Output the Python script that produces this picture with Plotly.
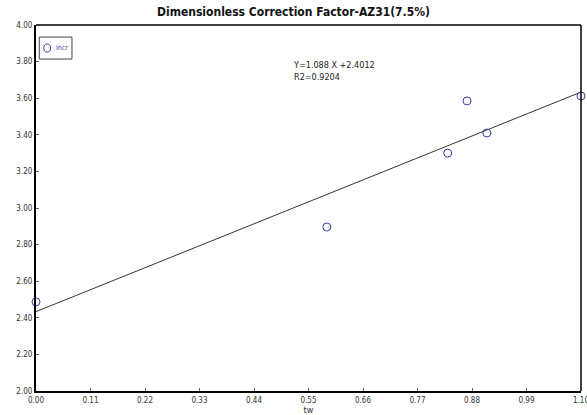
import numpy as np
import plotly.graph_objects as go

x_vals = [0.0, 0.587, 0.831, 0.870, 0.910, 1.10]
y_vals = [2.487, 2.896, 3.300, 3.585, 3.410, 3.612]
x_ticks = [0.00, 0.11, 0.22, 0.33, 0.44, 0.55, 0.66, 0.77, 0.88, 0.99, 1.10]
y_ticks = [2.00, 2.20, 2.40, 2.60, 2.80, 3.00, 3.20, 3.40, 3.60, 3.80, 4.00]
eq_text = "Y=1.088 X +2.4012<br>R2=0.9204"
title_text = "Dimensionless Correction Factor-AZ31(7.5%)"
legend_label = "Incr"

slope, intercept = np.polyfit(x_vals, y_vals, 1)
fx = [0.0, 1.10]
fy = [slope * v + intercept for v in fx]

NARROW = "DejaVu Sans Condensed, Liberation Sans Narrow, sans-serif"
BLUE = "#3a3aa8"

fig = go.Figure()
fig.add_trace(go.Scatter(x=fx, y=fy, mode="lines", line=dict(color="#333333", width=1),
                         showlegend=False, hoverinfo="skip"))
fig.add_trace(go.Scatter(x=x_vals, y=y_vals, mode="markers", name=legend_label,
                         marker=dict(symbol="circle-open", size=8, color=BLUE,
                                     line=dict(width=1, color=BLUE)),
                         cliponaxis=False, showlegend=False))

fig.update_layout(
    width=587, height=415,
    margin=dict(l=36, r=6, t=25, b=24),
    paper_bgcolor="white", plot_bgcolor="white",
    title=dict(text="<b>" + title_text + "</b>", x=0.5, xanchor="center", y=0.972, yanchor="middle",
               automargin=False,
               font=dict(family=NARROW, size=12, color="#111111")),
    font=dict(family=NARROW, size=8, color="#333333"),
    showlegend=False,
)
fig.update_xaxes(range=[0, 1.10], tickvals=x_ticks, ticktext=[f"{v:.2f}" for v in x_ticks],
                 ticks="inside", ticklen=3, tickcolor="#666666", ticklabeloverflow="allow",
                 automargin=False,
                 showline=True, linecolor="black", linewidth=2, mirror=False,
                 showgrid=False, zeroline=False,
                 title=dict(text="tw", font=dict(family=NARROW, size=9, color="#333333"), standoff=4),
                 tickfont=dict(family=NARROW, size=8, color="#333333"))
fig.update_yaxes(range=[2.0, 4.0], tickvals=y_ticks, ticktext=[f"{v:.2f}" for v in y_ticks],
                 ticks="inside", ticklen=3, tickcolor="#666666", ticklabeloverflow="allow",
                 automargin=False,
                 showline=True, linecolor="black", linewidth=2, mirror=False,
                 showgrid=False, zeroline=False,
                 tickfont=dict(family=NARROW, size=8, color="#333333"))
fig.add_shape(type="line", xref="paper", yref="paper", x0=0, x1=1, y0=1, y1=1,
              line=dict(color="black", width=1.5))
fig.add_shape(type="line", xref="paper", yref="paper", x0=1, x1=1, y0=0, y1=1,
              line=dict(color="black", width=1.5))
# legend box
fig.add_shape(type="rect", xref="paper", yref="paper", x0=0.006, x1=0.066, y0=0.907, y1=0.967,
              line=dict(color="#444444", width=1), fillcolor="white")
fig.add_shape(type="circle", xref="paper", yref="paper", x0=0.0145, x1=0.0265, y0=0.926, y1=0.948,
              line=dict(color=BLUE, width=1))
fig.add_annotation(text=legend_label, xref="paper", yref="paper", x=0.033, y=0.937,
                   xanchor="left", yanchor="middle", showarrow=False,
                   font=dict(family=NARROW, size=7, color=BLUE))
fig.add_annotation(text=eq_text, xref="paper", yref="paper", x=0.468, y=0.91,
                   xanchor="left", yanchor="top", showarrow=False, align="left",
                   font=dict(family=NARROW, size=9, color="#222222"))

fig.write_html("out.html")
